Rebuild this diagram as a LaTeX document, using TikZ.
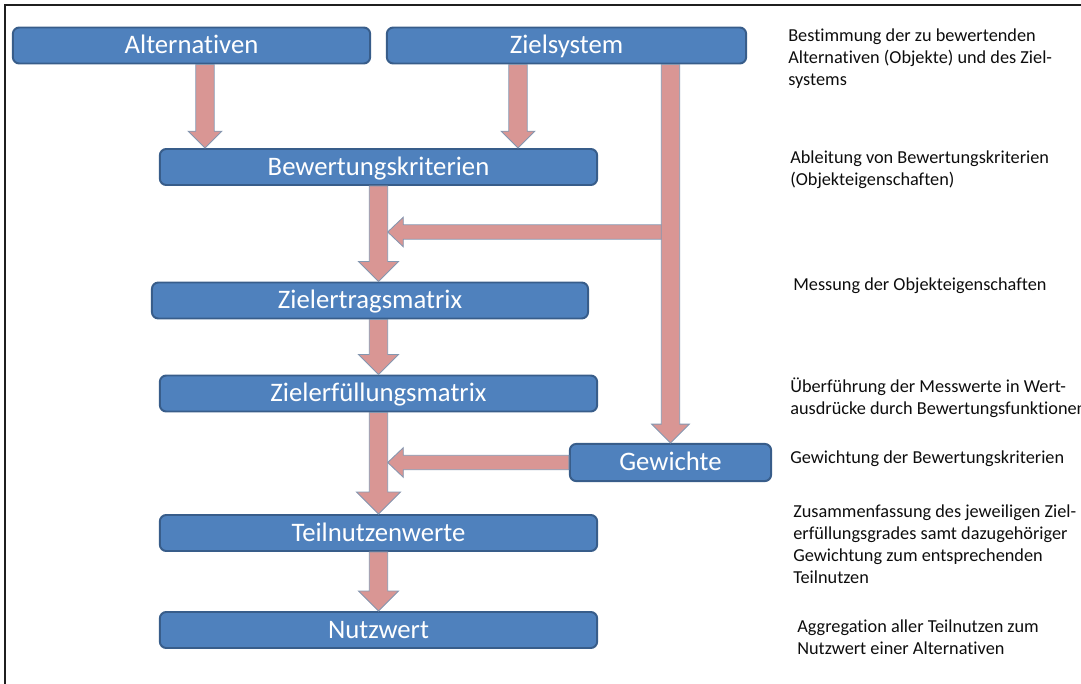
\documentclass[tikz,border=0pt]{standalone}
\usepackage{fontspec}
\setmainfont{Carlito}[Ligatures=NoCommon]
\usetikzlibrary{calc}
\definecolor{StageFill}{HTML}{4F81BD}
\definecolor{StageLine}{HTML}{385D8A}
\definecolor{FlowFill}{HTML}{D99694}
\definecolor{FlowLine}{HTML}{8497B0}
\definecolor{FrameInk}{gray}{0.12}
\definecolor{NoteInk}{gray}{0.05}
\newcommand{\FlowDown}[3][0.45cm]{%
  \draw[flowarrow] let \p1=(#2), \p2=(#3) in
    (\x1-0.23cm,\y1) -- (\x1+0.23cm,\y1) -- (\x1+0.23cm,\y2+#1)
    -- (\x1+#1,\y2+#1) -- (\x1,\y2) -- (\x1-#1,\y2+#1)
    -- (\x1-0.23cm,\y2+#1) -- cycle;%
}
\newcommand{\FlowLeft}[2]{%
  \draw[flowarrow] let \p1=(#1), \p2=(#2) in
    (\x1,\y1-0.18cm) -- (\x2+0.62cm,\y1-0.18cm) -- (\x2+0.62cm,\y1-0.37cm)
    -- (\x2+0.23cm,\y1) -- (\x2+0.62cm,\y1+0.37cm) -- (\x2+0.62cm,\y1+0.18cm)
    -- (\x1,\y1+0.18cm) -- cycle;%
}

\begin{document}
\begin{tikzpicture}[
  x=0.025cm,y=-0.025cm,
  stage/.style={draw=StageLine,line width=1.4pt,rounded corners=1.6mm,fill=StageFill,
                text=white,font=\fontsize{19}{22}\selectfont,minimum height=0.9cm,
                text height=14.5pt,text depth=2.9pt,inner sep=0pt},
  note/.style={anchor=north west,align=left,inner sep=0pt,text=NoteInk,
               font=\fontsize{13}{15.5}\selectfont},
  flowarrow/.style={draw=FlowLine,line width=0.6pt,fill=FlowFill,line join=miter},
]
  \useasboundingbox (0,0) rectangle (1081,684);
  \draw[FrameInk,line width=1.5pt] (5,690) -- (5,5) -- (1090,5);

  \node[stage,minimum width=8.93cm] (alt) at (191.5,45.5) {Alternativen};
  \node[stage,minimum width=8.98cm] (ziel) at (566.5,45.5) {Zielsystem};
  \node[stage,minimum width=10.93cm] (bew) at (378.5,167) {Bewertungskriterien};
  \node[stage,minimum width=10.9cm] (ertrag) at (370,300.5) {Zielertragsmatrix};
  \node[stage,minimum width=10.93cm] (erfuell) at (378.5,393.5) {Zielerfüllungsmatrix};
  \node[stage,minimum width=5.03cm,minimum height=0.93cm] (gew) at (670.5,462.5) {Gewichte};
  \node[stage,minimum width=10.93cm] (teil) at (378.5,533) {Teilnutzenwerte};
  \node[stage,minimum width=10.93cm] (nutz) at (378.5,630) {Nutzwert};

  \coordinate (altout) at ($(alt.south)+(13.5,0)$);
  \coordinate (zielout) at ($(ziel.south)+(-48.5,0)$);
  \coordinate (weightout) at (gew.north |- ziel.south);
  \coordinate (branch) at (670,232);

  \FlowDown[0.42cm]{altout}{bew.north}
  \FlowDown[0.42cm]{zielout}{bew.north}
  \FlowLeft{branch}{bew.south}
  \FlowDown[0.47cm]{weightout}{gew.north}
  \FlowDown[0.5cm]{bew.south}{ertrag.north}
  \FlowDown[0.5cm]{erfuell.north |- ertrag.south}{erfuell.north}
  \FlowLeft{gew.west}{erfuell.south}
  \FlowDown[0.55cm]{erfuell.south}{teil.north}
  \FlowDown[0.5cm]{teil.south}{nutz.north}

  \node[note] (n1) at (788,29) {Bestimmung der zu bewertenden\\Alternativen (Objekte) und des Ziel-\\systems};
  \node[note] (n2) at (790,151) {Ableitung von Bewertungskriterien\\(Objekteigenschaften)};
  \node[note] (n3) at (793,278) {Messung der Objekteigenschaften};
  \node[note] (n4) at (790,378) {Überführung der Messwerte in Wert-\\ausdrücke durch Bewertungsfunktionen};
  \node[note] (n5) at (790,451) {Gewichtung der Bewertungskriterien};
  \node[note] (n6) at (793,505) {Zusammenfassung des jeweiligen Ziel-\\erfüllungsgrades samt dazugehöriger\\Gewichtung zum entsprechenden\\Teilnutzen};
  \node[note] (n7) at (797,620) {Aggregation aller Teilnutzen zum\\Nutzwert einer Alternativen};
\end{tikzpicture}
\end{document}
